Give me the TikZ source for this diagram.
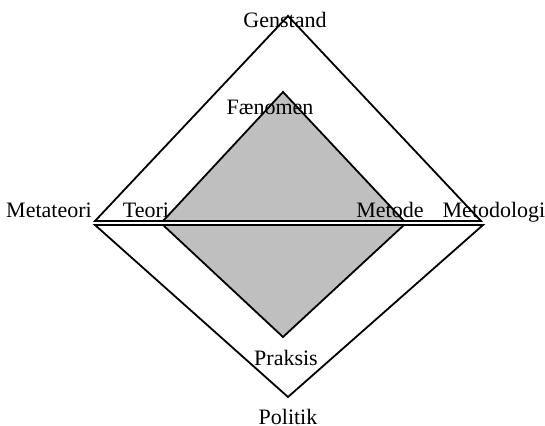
\documentclass[tikz,border=0pt]{standalone}
\usepackage{fontspec}
\setmainfont{Liberation Serif}
\begin{document}
\begin{tikzpicture}[x=0.5pt, y=-0.5pt, line width=0.9pt,
    lbl/.style={font=\fontsize{11}{13}\selectfont, inner sep=0pt, anchor=base},
    felt/.style={fill=black!25, draw=black}]
        \useasboundingbox (0,0) rectangle (545,426);

        % outer diamond, split in two along the middle
        \coordinate (gs) at (288,16);
        \coordinate (pl) at (288,397);
        \draw (95,221) -- (gs) -- (481,221) -- cycle;
        \draw (95,225) -- (pl) -- (483,225) -- cycle;

        % inner diamond
        \coordinate (fn) at (283,92);
        \coordinate (pk) at (283,337);
        \draw[felt] (163,221) -- (fn) -- (404,221) -- cycle;
        \draw[felt] (163,225) -- (pk) -- (404,225) -- cycle;

        \node[lbl] (genstand) at (285,28) {Genstand};
        \node[lbl] (faenomen) at (270,115) {Fænomen};
        \node[lbl] (metateori) at (49,218) {Metateori};
        \node[lbl] (teori) at (146,218) {Teori};
        \node[lbl] (metode) at (390,218) {Metode};
        \node[lbl] (metodologi) at (494,218) {Metodologi};
        \node[lbl] (praksis) at (286,366) {Praksis};
        \node[lbl] (politik) at (288,424) {Politik};

    \end{tikzpicture}
\end{document}
